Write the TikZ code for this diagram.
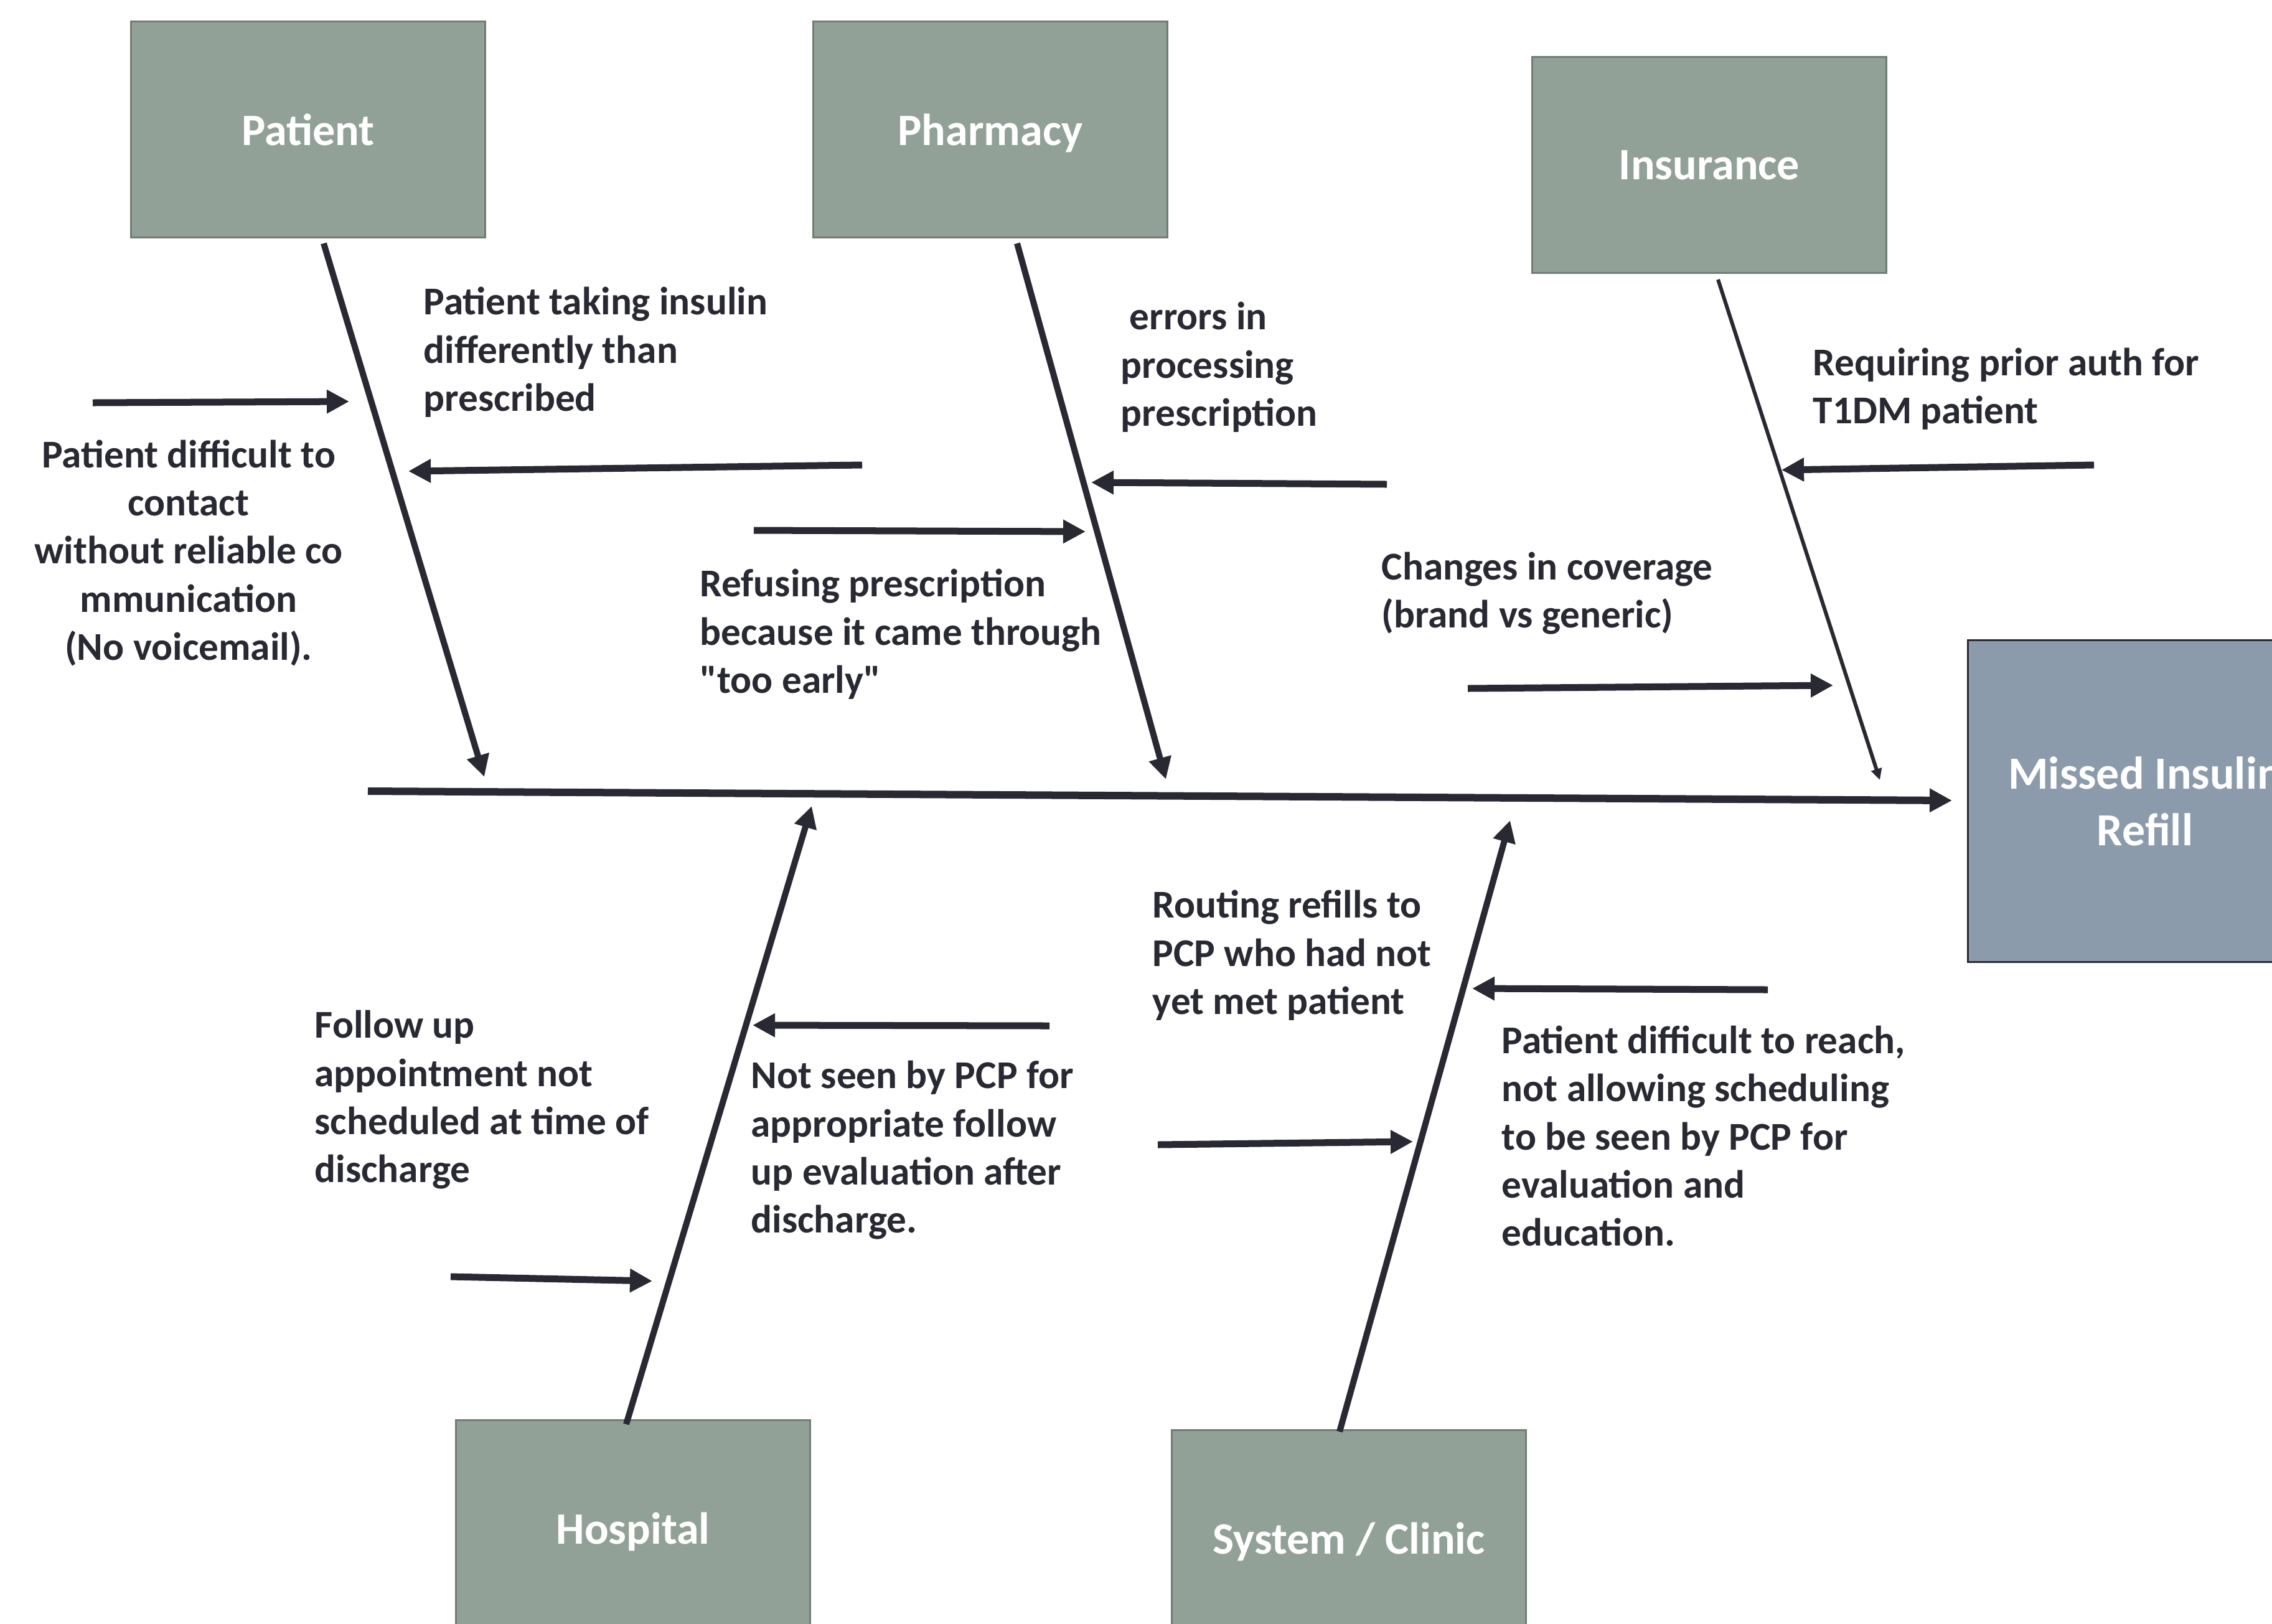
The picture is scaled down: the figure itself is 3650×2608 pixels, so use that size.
\documentclass[tikz,border=0pt]{standalone}
\usepackage{fontspec}
\setmainfont{Carlito}
\newfontfamily\plainquote{Carlito}[Ligatures=TeXOff]
\usetikzlibrary{arrows.meta}
\definecolor{boxgreen}{RGB}{146,161,151}
\definecolor{boxgreenedge}{RGB}{111,125,114}
\definecolor{boxblue}{RGB}{140,155,171}
\definecolor{ink}{RGB}{41,41,52}
\newcommand{\straightq}{{\plainquote\bfseries"}}
\tikzset{
  catbox/.style={draw=boxgreenedge, line width=0.03cm, fill=boxgreen, minimum width=5.68cm, minimum height=3.47cm, text=white, font=\fontsize{20.5}{25}\selectfont\bfseries, inner sep=0pt, text depth=0pt},
  effectbox/.style={draw=ink, line width=0.03cm, fill=boxblue, minimum width=5.68cm, minimum height=5.17cm, text=white, font=\fontsize{21}{25.8}\selectfont\bfseries, align=center, inner sep=0pt},
  cause/.style={text=ink, font=\fontsize{18}{21.9}\selectfont\bfseries, align=left, inner sep=0pt, anchor=base west},
  causec/.style={text=ink, font=\fontsize{18}{21.9}\selectfont\bfseries, align=center, inner sep=0pt, anchor=base},
  spine/.style={draw=ink, line width=0.12cm, -{Triangle[length=0.36cm,width=0.36cm]}},
  bone/.style={draw=ink, line width=0.10cm, -{Triangle[length=0.35cm,width=0.35cm]}},
  thinbone/.style={draw=ink, line width=0.06cm, -{Triangle[length=0.18cm,width=0.17cm]}},
  subarrow/.style={draw=ink, line width=0.11cm, -{Triangle[length=0.36cm,width=0.36cm]}},
}
\begin{document}
\begin{tikzpicture}[x=0.01cm, y=-0.01cm]
\useasboundingbox (0,0) rectangle (3650,2608);
\clip (0,0) rectangle (3650,2608);
\fill[white] (0,0) rectangle (3650,2608);

% category boxes
\node[catbox] (patient)  at (495,208)   {Patient};
\node[catbox] (pharmacy) at (1591,208)  {Pharmacy};
\node[catbox] (insurance) at (2746,265) {Insurance};
\node[catbox] (hospital) at (1017,2455) {Hospital};
\node[catbox] (system)   at (2167,2471) {System / Clinic};
\node[effectbox] (effect) at (3446,1287) {Missed Insulin\\Refill};

% spine
\coordinate (spineS) at (591,1271);
\coordinate (spineE) at (3136,1286);
\draw[spine] (spineS) -- (spineE);

% bones
\coordinate (pbS) at (520,391);   \coordinate (pbE) at (778,1248);
\coordinate (phS) at (1634,391);  \coordinate (phE) at (1873,1252);
\coordinate (inS) at (2760,449);  \coordinate (inE) at (3020,1253);
\coordinate (hoS) at (1006,2288); \coordinate (hoE) at (1304,1295);
\coordinate (syS) at (2152,2300); \coordinate (syE) at (2426,1318);
\draw[bone] (pbS) -- (pbE);
\draw[bone] (phS) -- (phE);
\draw[thinbone] (inS) -- (inE);
\draw[bone] (hoS) -- (hoE);
\draw[bone] (syS) -- (syE);

% sub-cause arrows
\coordinate (a1S) at (149,647);   \coordinate (a1E) at (561,645);
\coordinate (a2S) at (1385,747);  \coordinate (a2E) at (656,757);
\coordinate (a3S) at (1211,852);  \coordinate (a3E) at (1744,854);
\coordinate (a4S) at (2228,778);  \coordinate (a4E) at (1753,775);
\coordinate (a5S) at (3364,747);  \coordinate (a5E) at (2862,755);
\coordinate (a6S) at (2358,1106); \coordinate (a6E) at (2945,1101);
\coordinate (a7S) at (1686,1648); \coordinate (a7E) at (1209,1647);
\coordinate (a8S) at (724,2051);  \coordinate (a8E) at (1048,2058);
\coordinate (a9S) at (1860,1839); \coordinate (a9E) at (2270,1834);
\coordinate (a10S) at (2840,1590); \coordinate (a10E) at (2365,1588);
\foreach \i in {1,...,10} {\draw[subarrow] (a\i S) -- (a\i E);}

% cause texts (positioned at the baseline of the last line)
\node[cause] (t1) at (680,660) {Patient taking insulin\\differently than\\prescribed};
\node[causec] (t2) at (303,1060) {Patient difficult to\\contact\\without reliable co\\mmunication\\(No voicemail).};
\node[cause] (t3) at (1800,684) {\hspace*{0.14cm}errors in\\processing\\prescription};
\node[cause] (t4) at (1124,1113) {Refusing prescription\\because it came through\\\straightq too early\straightq};
\node[cause] (t5) at (2912,680) {Requiring prior auth for\\T1DM patient};
\node[cause] (t6) at (2219,1008) {Changes in coverage\\(brand vs generic)};
\node[cause] (t7) at (505,1899) {Follow up\\appointment not\\scheduled at time of\\discharge};
\node[cause] (t8) at (1206,1980) {Not seen by PCP for\\appropriate follow\\up evaluation after\\discharge.};
\node[cause] (t9) at (1851,1629) {Routing refills to\\PCP who had not\\yet met patient};
\node[cause] (t10) at (2412,2001) {Patient difficult to reach,\\not allowing scheduling\\to be seen by PCP for\\evaluation and\\education.};
\end{tikzpicture}
\end{document}
